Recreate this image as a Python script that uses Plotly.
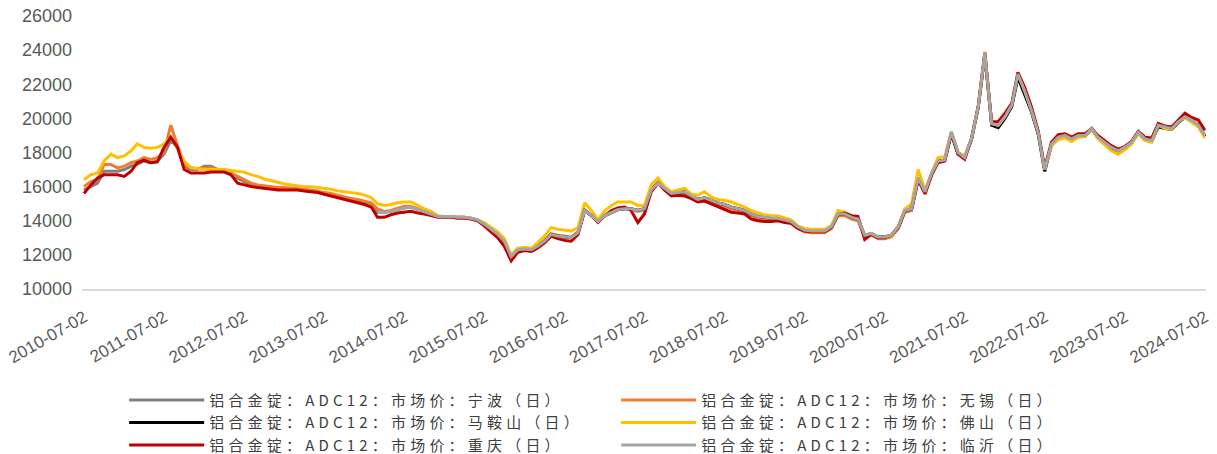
import pandas as pd
import plotly.graph_objects as go

# Monthly observations, 2010-07 .. 2024-07
dates = pd.date_range("2010-07-01", periods=169, freq="MS")

ningbo = [15800,16000,16200,16900,16900,16900,17000,17200,17300,17500,
          17400,17500,17900,18700,18300,17200,17000,17000,17200,17200,
          17000,16900,16700,16500,16300,16100,16050,16000,15950,15900,
          15900,15850,15850,15800,15750,15700,15600,15550,15450,15350,
          15250,15200,15100,15000,
          14500,14500,14550,14650,14750,14800,14650,14550,14400,14250,
          14250,14250,14200,14200,14150,14050,13800,13500,13200,12800,
          11900,12300,12350,12300,12500,12800,13200,13100,13050,13000,
          13300,14600,14300,13950,14300,14500,14650,14700,14700,14600,
          14700,15800,16200,15900,15600,15650,15700,15450,15250,15350,
          15200,15050,14950,14800,14700,14600,14400,14250,14200,14150,
          14150,14050,13950,13650,13450,13400,13400,13400,13650,14400,
          14400,14200,14100,13150,13250,13050,13050,13150,13650,14600,
          14700,16500,15700,16800,17500,17550,19200,18000,17700,18800,
          20700,23800,19700,19600,20100,20800,22600,21600,20500,19200,
          17000,18500,18900,19000,18800,19000,19000,19400,18900,18600,
          18300,18100,18300,18600,19200,18800,18700,19600,19500,19400,
          19800,20100,19900,19600,19000]

wuxi = [16000,16300,16400,17300,17300,17100,17200,17400,17500,17700,
        17600,17700,18000,19600,18400,17300,17100,17050,17100,17100,
        17000,16950,16800,16600,16400,16200,16100,16050,16000,15950,
        15950,15900,15900,15850,15800,15750,15650,15600,15500,15400,
        15300,15250,15150,15050,
        14700,14550,14600,14750,14850,14850,14700,14550,14400,14250,
        14250,14250,14200,14200,14150,14050,13800,13450,13150,12750,
        11850,12250,12300,12300,12500,12850,13250,13150,13100,13050,
        13350,14650,14300,13950,14300,14500,14700,14750,14700,14550,
        14650,15850,16200,15900,15550,15600,15600,15400,15200,15250,
        15100,14950,14850,14700,14600,14500,14300,14150,14100,14050,
        14050,13950,13850,13550,13350,13300,13300,13300,13550,14300,
        14300,14100,14000,13050,13150,12950,12950,13050,13550,14500,
        14600,16400,15550,16700,17450,17500,19150,17950,17700,18800,
        20700,23900,19700,19600,20100,20800,22600,21600,20500,19200,
        17000,18500,18900,19000,18800,19000,19000,19400,18900,18600,
        18300,18100,18300,18600,19200,18800,18700,19600,19500,19400,
        19800,20100,19900,19600,19000]

# Ma'anshan series starts 2016-01
maanshan = [12350,12300,12500,12800,13200,13100,13050,13000,
            13300,14600,14300,13950,14300,14500,14650,14700,14700,14600,
            14700,15800,16200,15900,15600,15650,15700,15450,15250,15350,
            15200,15050,14950,14800,14700,14600,14400,14250,14200,14150,
            14150,14050,13950,13650,13450,13400,13400,13400,13650,14400,
            14400,14200,14100,13150,13250,13050,13050,13150,13650,14600,
            14700,16500,15700,16800,17500,17550,19100,17900,17700,18750,
            20650,23800,19600,19450,20000,20700,22400,21400,20400,19100,
            16900,18450,18800,18950,18750,18950,18950,19350,18850,18550,
            18250,18050,18250,18550,19150,18750,18650,19500,19400,19350,
            19750,20050,19850,19550,18950]

foshan = [16400,16700,16800,17500,17900,17700,17800,18100,18500,18300,
          18250,18300,18500,18900,18200,17500,17100,17050,17000,17000,
          17000,17000,16950,16900,16850,16700,16600,16450,16350,16250,
          16150,16100,16050,16000,16000,15950,15900,15850,15750,15700,
          15650,15600,15500,15350,
          15000,14900,14950,15050,15100,15100,14900,14700,14550,14300,
          14250,14250,14200,14200,14150,14050,13900,13600,13350,12950,
          12000,12400,12450,12400,12700,13100,13600,13500,13450,13400,
          13600,15050,14600,14050,14600,14900,15100,15100,15100,14900,
          14900,16100,16500,16000,15700,15800,15900,15550,15500,15700,
          15400,15250,15200,15100,14950,14800,14600,14450,14350,14300,
          14300,14150,14050,13700,13550,13500,13500,13500,13700,14600,
          14500,14250,14150,13150,13250,13050,13000,13100,13650,14700,
          15000,17000,15800,16800,17700,17750,19200,18000,17800,18800,
          20700,23800,19700,19600,20100,20800,22600,21600,20500,19200,
          17000,18400,18750,18850,18650,18900,18950,19350,18800,18450,
          18100,17900,18150,18500,19150,18700,18600,19600,19400,19350,
          19800,20050,19800,19500,18850]

chongqing = [15600,16100,16500,16700,16700,16700,16600,16900,17400,17550,
             17400,17450,18300,18900,18300,17000,16800,16800,16800,16850,
             16850,16850,16700,16200,16100,16000,15950,15900,15850,15800,
             15800,15800,15800,15750,15700,15650,15550,15450,15350,15250,
             15150,15050,14950,14800,
             14200,14200,14350,14450,14500,14550,14450,14400,14300,14200,
             14200,14200,14150,14150,14100,14000,13700,13350,13000,12500,
             11650,12150,12250,12200,12400,12700,13100,12950,12850,12800,
             13200,14600,14300,13900,14300,14600,14750,14800,14600,13900,
             14400,15700,16200,15800,15450,15500,15450,15300,15100,15150,
             15000,14800,14650,14500,14450,14400,14100,14000,13950,13950,
             14000,13900,13850,13550,13400,13350,13350,13350,13600,14350,
             14450,14300,14250,12900,13200,13000,13000,13150,13600,14550,
             14700,16400,15600,16700,17400,17500,19100,17900,17600,18800,
             20700,23700,19800,19800,20300,20900,22700,21800,20700,19300,
             17100,18600,19050,19100,18900,19100,19100,19400,19000,18700,
             18400,18200,18350,18650,19250,18900,18850,19700,19550,19500,
             19900,20300,20050,19900,19300]

# Linyi series starts 2014-03
linyi = [14500,14500,14550,14650,14750,14800,14650,14550,14400,14250,
         14250,14250,14200,14200,14150,14050,13800,13500,13200,12800,
         11900,12300,12350,12300,12500,12800,13200,13100,13050,13000,
         13300,14600,14300,13950,14300,14500,14650,14700,14700,14600,
         14700,15800,16200,15900,15600,15650,15700,15450,15250,15350,
         15200,15050,14950,14800,14700,14600,14400,14250,14200,14150,
         14150,14050,13950,13650,13450,13400,13400,13400,13650,14400,
         14400,14200,14100,13150,13250,13050,13050,13150,13650,14600,
         14700,16500,15700,16800,17500,17550,19200,18000,17700,18800,
         20700,23800,19700,19600,20100,20800,22600,21600,20500,19200,
         17000,18500,18900,19000,18800,19000,19000,19400,18900,18600,
         18300,18100,18300,18600,19200,18800,18700,19600,19500,19400,
         19800,20100,19900,19600,19000]

names = ["铝合金锭：ADC12：市场价：宁波（日）",
         "铝合金锭：ADC12：市场价：无锡（日）",
         "铝合金锭：ADC12：市场价：马鞍山（日）",
         "铝合金锭：ADC12：市场价：佛山（日）",
         "铝合金锭：ADC12：市场价：重庆（日）",
         "铝合金锭：ADC12：市场价：临沂（日）"]
colors = ["#7F7F7F", "#ED7D31", "#000000", "#FFC000", "#C00000", "#A5A5A5"]
series = [ningbo, wuxi, maanshan, foshan, chongqing, linyi]

tick_labels = ["2010-07-02", "2011-07-02", "2012-07-02", "2013-07-02", "2014-07-02",
               "2015-07-02", "2016-07-02", "2017-07-02", "2018-07-02", "2019-07-02",
               "2020-07-02", "2021-07-02", "2022-07-02", "2023-07-02", "2024-07-02"]

fig = go.Figure()
for name, col, vals in zip(names, colors, series):
    fig.add_trace(go.Scatter(
        x=dates[len(dates) - len(vals):], y=vals, mode="lines",
        name='<span style="letter-spacing:4.2px">' + name + '</span>',
        line=dict(color=col, width=3),
    ))

fig.update_layout(
    width=1217, height=454,
    margin=dict(l=82, r=6, t=16, b=165),
    paper_bgcolor="white", plot_bgcolor="white",
    showlegend=True,
    legend=dict(
        orientation="h", xref="container", yref="container",
        x=0.102, xanchor="left", y=0.155, yanchor="top",
        entrywidth=402, entrywidthmode="pixels", itemwidth=75,
        font=dict(family="Noto Sans CJK SC", size=15, color="#404040"),
        tracegroupgap=0,
    ),
    xaxis=dict(
        type="date", range=["2010-06-22", "2024-07-06"],
        tickvals=tick_labels, ticktext=tick_labels, tickangle=-30,
        showgrid=False, zeroline=False,
        showline=True, linecolor="#D9D9D9", linewidth=2,
        ticks="", ticklabelstandoff=10,
        tickfont=dict(family="Liberation Sans", size=17, color="#595959"),
    ),
    yaxis=dict(
        range=[10000, 26000], dtick=2000, tick0=10000, tickformat="d",
        showgrid=False, zeroline=False, showline=False,
        ticks="", ticklabelstandoff=9,
        tickfont=dict(family="Liberation Sans", size=18, color="#595959"),
    ),
)

fig.write_html("out.html", config={"displayModeBar": False},
               post_script="document.body.style.margin='0';")
